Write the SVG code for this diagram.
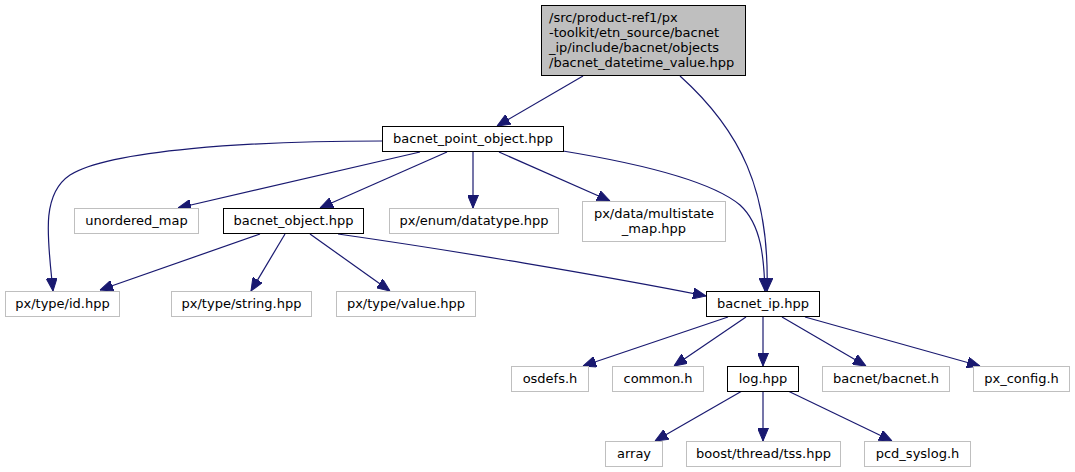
<svg xmlns="http://www.w3.org/2000/svg" width="1075" height="472" viewBox="0 0 1075 472">
<style>
  .n rect { fill: #ffffff; stroke: #bfbfbf; stroke-width: 1; }
  .n.k rect { stroke: #000000; }
  .n.top rect { fill: #bfbfbf; stroke: #000000; }
  text { font-family: "DejaVu Sans", "Liberation Sans", sans-serif; font-size: 13px; fill: #000000; text-anchor: middle; }
  .n.top text { text-anchor: start; }
  #edges path { fill: none; stroke: #191970; stroke-width: 1.2; marker-end: url(#arr); }
</style>
<defs>
  <marker id="arr" markerUnits="userSpaceOnUse" markerWidth="13" markerHeight="11" viewBox="0 0 13 11" refX="13" refY="5.5" orient="auto">
    <path d="M0,0 L13,5.5 L0,11 z" fill="#191970" stroke="#191970" stroke-width="1"/>
  </marker>
</defs>
<rect x="0" y="0" width="1075" height="472" fill="#ffffff"/>
<g id="edges">
  <path d="M583,76 L497,126"/>
  <path d="M680,76 C740,130 770,190 767,291"/>
  <path d="M382,141 C250,141 110,150 70,175 C40,195 48,240 53,291"/>
  <path d="M420,152 L178,208"/>
  <path d="M447,152 L320,208"/>
  <path d="M473,152 L473,208"/>
  <path d="M499,152 L610,201"/>
  <path d="M563,151 C630,162 710,180 740,205 C762,225 764,260 765,291"/>
  <path d="M260,234 L100,290"/>
  <path d="M285,234 L251,291"/>
  <path d="M310,234 L390,291"/>
  <path d="M338,234 C450,250 600,275 706,296"/>
  <path d="M728,317 L583,366"/>
  <path d="M746,317 L674,366"/>
  <path d="M763,317 L763,366"/>
  <path d="M782,317 L866,366"/>
  <path d="M805,317 L980,366"/>
  <path d="M742,391 L655,441"/>
  <path d="M763,391 L763,441"/>
  <path d="M788,391 L892,441"/>
</g>
<g id="node_top" class="n top">
  <rect x="541.5" y="5.5" width="204" height="70"/>
  <text x="549" y="21.5">/src/product-ref1/px</text>
  <text x="549" y="36.5">-toolkit/etn_source/bacnet</text>
  <text x="549" y="51.5">_ip/include/bacnet/objects</text>
  <text x="549" y="66.5">/bacnet_datetime_value.hpp</text>
</g>
<g id="node_bpo" class="n k">
  <rect x="382.5" y="126.5" width="181" height="25"/>
  <text x="473" y="143">bacnet_point_object.hpp</text>
</g>
<g id="node_unordered_map" class="n">
  <rect x="74.5" y="208.5" width="124" height="25"/>
  <text x="136.5" y="225">unordered_map</text>
</g>
<g id="node_bacnet_object" class="n k">
  <rect x="223.5" y="208.5" width="140" height="25"/>
  <text x="293.5" y="225">bacnet_object.hpp</text>
</g>
<g id="node_datatype" class="n">
  <rect x="389.5" y="208.5" width="169" height="25"/>
  <text x="474" y="225">px/enum/datatype.hpp</text>
</g>
<g id="node_multistate" class="n">
  <rect x="582.5" y="201.5" width="143" height="40"/>
  <text x="654" y="217.5">px/data/multistate</text>
  <text x="654" y="232.5">_map.hpp</text>
</g>
<g id="node_id" class="n">
  <rect x="5.5" y="291.5" width="114" height="25"/>
  <text x="62.5" y="308">px/type/id.hpp</text>
</g>
<g id="node_string" class="n">
  <rect x="171.5" y="291.5" width="140" height="25"/>
  <text x="241.5" y="308">px/type/string.hpp</text>
</g>
<g id="node_value" class="n">
  <rect x="336.5" y="291.5" width="139" height="25"/>
  <text x="406" y="308">px/type/value.hpp</text>
</g>
<g id="node_bacnet_ip" class="n k">
  <rect x="706.5" y="291.5" width="113" height="25"/>
  <text x="763" y="308">bacnet_ip.hpp</text>
</g>
<g id="node_osdefs" class="n">
  <rect x="511.5" y="366.5" width="77" height="25"/>
  <text x="550" y="383">osdefs.h</text>
</g>
<g id="node_common" class="n">
  <rect x="612.5" y="366.5" width="91" height="25"/>
  <text x="658" y="383">common.h</text>
</g>
<g id="node_log" class="n k">
  <rect x="727.5" y="366.5" width="71" height="25"/>
  <text x="763" y="383">log.hpp</text>
</g>
<g id="node_bacnet_h" class="n">
  <rect x="822.5" y="366.5" width="127" height="25"/>
  <text x="886" y="383">bacnet/bacnet.h</text>
</g>
<g id="node_px_config" class="n">
  <rect x="973.5" y="366.5" width="96" height="25"/>
  <text x="1021.5" y="383">px_config.h</text>
</g>
<g id="node_array" class="n">
  <rect x="605.5" y="441.5" width="57" height="25"/>
  <text x="634" y="458">array</text>
</g>
<g id="node_tss" class="n">
  <rect x="686.5" y="441.5" width="154" height="25"/>
  <text x="763.5" y="458">boost/thread/tss.hpp</text>
</g>
<g id="node_pcd_syslog" class="n">
  <rect x="864.5" y="441.5" width="106" height="25"/>
  <text x="917.5" y="458">pcd_syslog.h</text>
</g>
</svg>
